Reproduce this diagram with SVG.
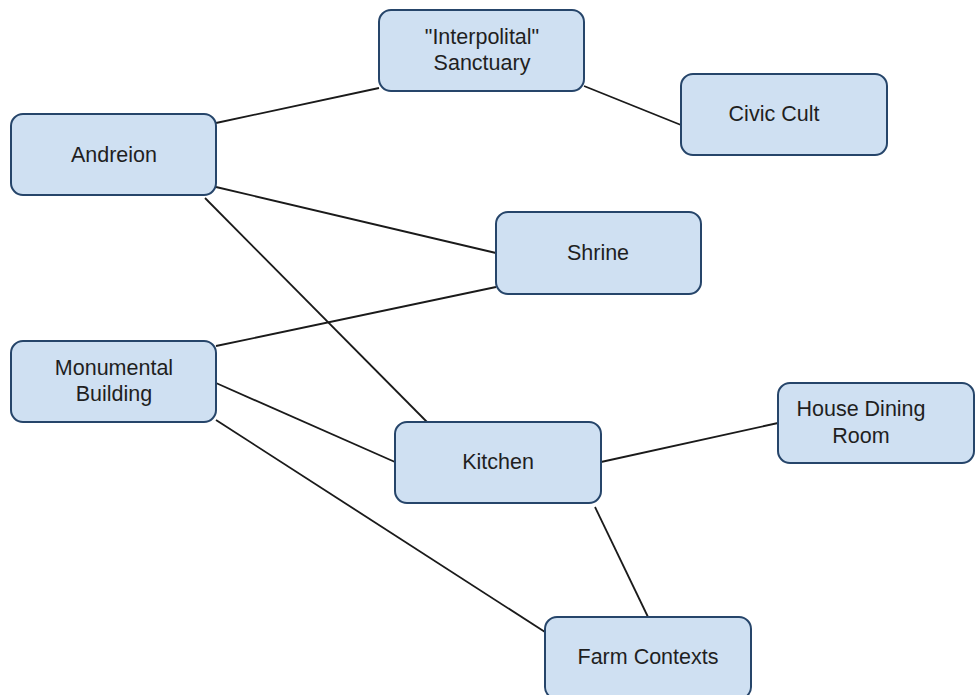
<svg xmlns="http://www.w3.org/2000/svg" width="975" height="695" viewBox="0 0 975 695">
<style>
.node rect{fill:#cfe0f2;stroke:#26456a;stroke-width:2}
.node text{font-family:"Liberation Sans",Arial,sans-serif;font-size:21.5px;fill:#1f1f1f;text-anchor:middle;dominant-baseline:central}
.edges line{stroke:#1a1a1a;stroke-width:1.8}
</style>
<rect width="975" height="695" fill="#ffffff"/>
<g class="edges">
<line x1="216" y1="123" x2="379" y2="88"/>
<line x1="584" y1="86" x2="681" y2="125"/>
<line x1="216" y1="187" x2="496" y2="253"/>
<line x1="205" y1="198" x2="427" y2="422"/>
<line x1="216" y1="346" x2="496" y2="287"/>
<line x1="216" y1="383" x2="395" y2="462"/>
<line x1="216" y1="420" x2="545" y2="632"/>
<line x1="601" y1="462" x2="778" y2="423"/>
<line x1="595" y1="507" x2="648" y2="617"/>
</g>
<g id="sanctuary" class="node"><rect x="379" y="10" width="205" height="81" rx="12"/><text x="482" y="37">"Interpolital"</text><text x="482" y="63">Sanctuary</text></g>
<g id="civic-cult" class="node"><rect x="681" y="74" width="206" height="81" rx="12"/><text x="774" y="114">Civic Cult</text></g>
<g id="andreion" class="node"><rect x="11" y="114" width="205" height="81" rx="12"/><text x="114" y="155">Andreion</text></g>
<g id="shrine" class="node"><rect x="496" y="212" width="205" height="82" rx="12"/><text x="598" y="253">Shrine</text></g>
<g id="monumental-building" class="node"><rect x="11" y="341" width="205" height="81" rx="12"/><text x="114" y="368">Monumental</text><text x="114" y="394">Building</text></g>
<g id="kitchen" class="node"><rect x="395" y="422" width="206" height="81" rx="12"/><text x="498" y="462">Kitchen</text></g>
<g id="house-dining-room" class="node"><rect x="778" y="383" width="196" height="80" rx="12"/><text x="861" y="409">House Dining</text><text x="861" y="436">Room</text></g>
<g id="farm-contexts" class="node"><rect x="545" y="617" width="206" height="82" rx="12"/><text x="648" y="657">Farm Contexts</text></g>
</svg>
